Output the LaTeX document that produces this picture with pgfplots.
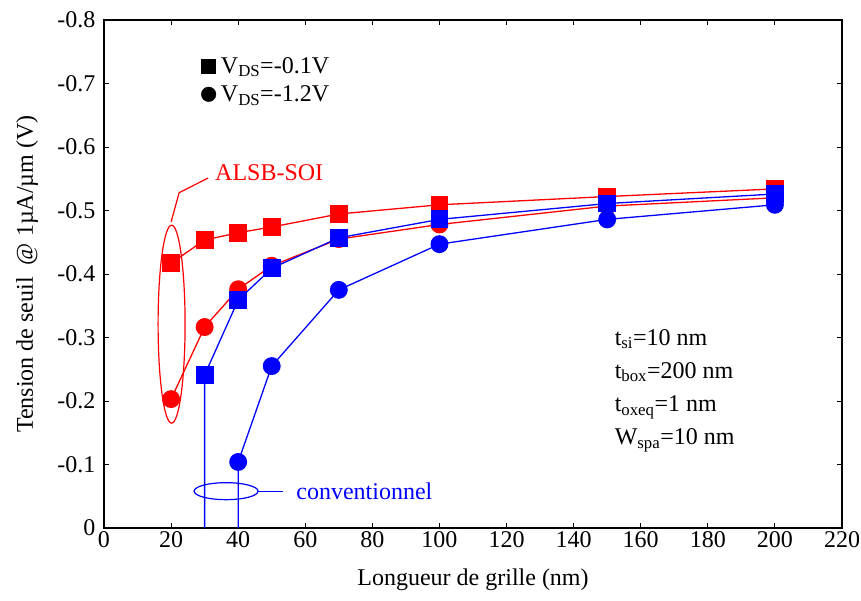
\documentclass[border=0pt]{standalone}
\usepackage{fontspec}
\setmainfont{Liberation Serif}
\usepackage{pgfplots}
\pgfplotsset{compat=1.18}
\begin{document}
\begin{tikzpicture}
\begin{axis}[
  scale only axis, width=738pt, height=508pt,
  xmin=0, xmax=220, ymin=-0.8, ymax=0, y dir=reverse,
  xtick={0,20,40,60,80,100,120,140,160,180,200,220},
  ytick={-0.8,-0.7,-0.6,-0.5,-0.4,-0.3,-0.2,-0.1,0},
  /pgf/number format/assume math mode=true,
  tick label style={font=\fontsize{24}{28}\selectfont},
  yticklabel style={/pgf/number format/fixed, /pgf/number format/precision=1, xshift=-5pt},
  tick align=inside, major tick length=5pt,
  major tick style={black, line width=1pt},
  axis line style={line width=2pt},
  xlabel={Longueur de grille (nm)},
  ylabel={Tension de seuil\ \ @ 1µA/µm (V)},
  every axis x label/.style={at={(axis description cs:0.5,-0.102)}, anchor=center, font=\fontsize{24}{28}\selectfont},
  every axis y label/.style={at={(axis description cs:-0.1043,0.5)}, anchor=center, rotate=90, font=\fontsize{24}{28}\selectfont},
]
% ALSB-SOI, VDS=-0.1V
\addplot[red, line width=1.3pt, mark=square*, mark size=8.3pt, mark options={solid, fill=red}] coordinates {
(20,-0.417) (30,-0.4535) (40,-0.465) (50,-0.474) (70,-0.4945) (100,-0.509) (150,-0.522) (200,-0.534)};
% ALSB-SOI, VDS=-1.2V
\addplot[red, line width=1.3pt, mark=*, mark size=8.3pt, mark options={solid, fill=red}] coordinates {
(20,-0.203) (30,-0.3165) (40,-0.376) (50,-0.413) (70,-0.455) (100,-0.478) (150,-0.507) (200,-0.520)};
% conventionnel, VDS=-0.1V
\addplot[blue, line width=1.3pt, mark=square*, mark size=8.3pt, mark options={solid, fill=blue}, mark indices={2,3,4,5,6,7,8}] coordinates {
(30,0) (30,-0.241) (40,-0.359) (50,-0.409) (70,-0.457) (100,-0.486) (150,-0.511) (200,-0.526)};
% conventionnel, VDS=-1.2V
\addplot[blue, line width=1.3pt, mark=*, mark size=8.3pt, mark options={solid, fill=blue}, mark indices={2,3,4,5,6,7}] coordinates {
(40,0) (40,-0.104) (50,-0.255) (70,-0.375) (100,-0.447) (150,-0.486) (200,-0.509)};
% legend markers
\addplot[only marks, black, mark=square*, mark size=7pt] coordinates {(31.2,-0.728)};
\addplot[only marks, black, mark=*, mark size=7.3pt] coordinates {(31.2,-0.683)};
\node[anchor=base west, inner sep=0pt, font=\fontsize{24}{28}\selectfont] at (axis cs:34.8,-0.7165) {V\textsubscript{DS}=-0.1V};
\node[anchor=base west, inner sep=0pt, font=\fontsize{24}{28}\selectfont] at (axis cs:34.8,-0.671) {V\textsubscript{DS}=-1.2V};
% parameters
\node[anchor=base west, inner sep=0pt, font=\fontsize{24}{28}\selectfont] at (axis cs:152.2,-0.288) {t\textsubscript{si}=10 nm};
\node[anchor=base west, inner sep=0pt, font=\fontsize{24}{28}\selectfont] at (axis cs:152.2,-0.236) {t\textsubscript{box}=200 nm};
\node[anchor=base west, inner sep=0pt, font=\fontsize{24}{28}\selectfont] at (axis cs:152.2,-0.183) {t\textsubscript{oxeq}=1 nm};
\node[anchor=base west, inner sep=0pt, font=\fontsize{24}{28}\selectfont] at (axis cs:152.2,-0.131) {W\textsubscript{spa}=10 nm};
% ALSB-SOI annotation
\draw[red, line width=1.2pt] (axis cs:20.15,-0.321) ellipse [x radius=13.5pt, y radius=99pt];
\draw[red, line width=1.2pt] (axis cs:20.0,-0.482) -- (axis cs:22.4,-0.528) -- (axis cs:31.0,-0.551);
\node[red, anchor=west, inner sep=0pt, font=\fontsize{24}{28}\selectfont] at (axis cs:33.1,-0.559) {ALSB-SOI};
% conventionnel annotation
\draw[blue, line width=1.2pt] (axis cs:36.4,-0.058) ellipse [x radius=32pt, y radius=8.5pt];
\draw[blue, line width=1.2pt] (axis cs:46.0,-0.058) -- (axis cs:53.4,-0.058);
\node[blue, anchor=west, inner sep=0pt, font=\fontsize{24}{28}\selectfont] at (axis cs:57.3,-0.058) {conventionnel};
\end{axis}
\pgfresetboundingbox
\path[use as bounding box] ([shift={(-104pt,-73pt)}]current axis.south west) rectangle ([shift={(19pt,20pt)}]current axis.north east);
\end{tikzpicture}
\end{document}
